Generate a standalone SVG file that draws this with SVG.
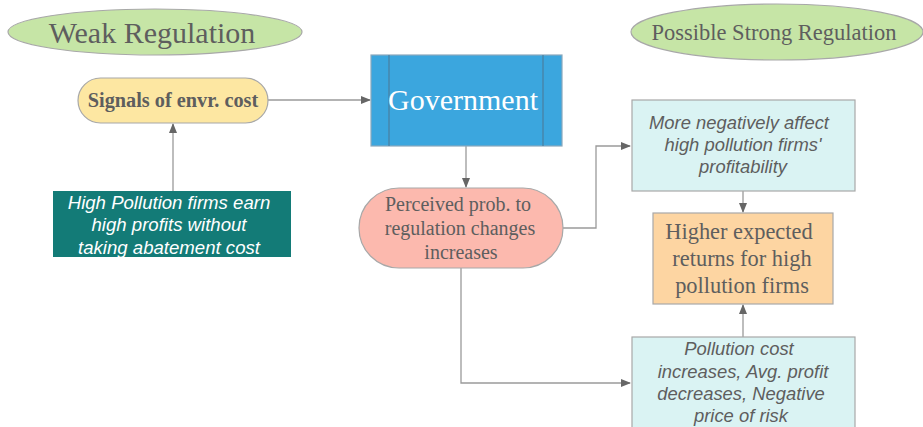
<svg xmlns="http://www.w3.org/2000/svg" width="923" height="427" viewBox="0 0 923 427">
<style>
.serif{font-family:"Liberation Serif","Times New Roman",serif;fill:#5e5e5e;text-anchor:middle;dominant-baseline:central}
.sans{font-family:"Liberation Sans",Arial,sans-serif;font-style:italic;fill:#5e5e5e;text-anchor:middle;dominant-baseline:central}
.conn{fill:none;stroke:#9a9a9a;stroke-width:1.3}
.box{stroke:#a8a8a8;stroke-width:1.2}
</style>
<defs>
<marker id="ah" markerWidth="10" markerHeight="8" refX="9" refY="4" orient="auto" markerUnits="userSpaceOnUse">
<path d="M0,0 L10,4 L0,8 Z" fill="#666"/>
</marker>
</defs>
<rect width="923" height="427" fill="#ffffff"/>

<g id="connectors">
<path class="conn" d="M268,100 H370" marker-end="url(#ah)"/>
<path class="conn" d="M466,146 V187" marker-end="url(#ah)"/>
<path class="conn" d="M173,191 V124" marker-end="url(#ah)"/>
<path class="conn" d="M563,228 H596 V146 H630" marker-end="url(#ah)"/>
<path class="conn" d="M743,191 V212" marker-end="url(#ah)"/>
<path class="conn" d="M743,337 V305" marker-end="url(#ah)"/>
<path class="conn" d="M461,268 V383 H630" marker-end="url(#ah)"/>
</g>

<g id="weak-regulation">
<ellipse cx="155" cy="32" rx="147" ry="23" fill="#c6e5a6" class="box"/>
<text class="serif" x="152" y="32" font-size="30">Weak Regulation</text>
</g>

<g id="strong-regulation">
<ellipse cx="777" cy="32" rx="146" ry="28" fill="#c6e5a6" class="box"/>
<text class="serif" x="774" y="32" font-size="22.5">Possible Strong Regulation</text>
</g>

<g id="signals">
<rect x="78" y="78" width="190" height="45" rx="22.5" fill="#fde7a2" class="box"/>
<text class="serif" x="173" y="100" font-size="20.3" font-weight="bold">Signals of envr. cost</text>
</g>

<g id="high-pollution">
<rect x="53" y="191" width="238" height="66" fill="#137b77"/>
<text class="sans" x="169" y="202" font-size="18.6" style="fill:#ffffff">High Pollution firms earn</text>
<text class="sans" x="169" y="224" font-size="18.6" style="fill:#ffffff">high profits without</text>
<text class="sans" x="169" y="247" font-size="18.6" style="fill:#ffffff">taking abatement cost</text>
</g>

<g id="government">
<rect x="371" y="55" width="191" height="91" fill="#3ba6de" stroke="#8aa8bd" stroke-width="1.2"/>
<line x1="389" y1="55" x2="389" y2="146" stroke="#4a7f9e" stroke-width="1.2"/>
<line x1="543" y1="55" x2="543" y2="146" stroke="#4a7f9e" stroke-width="1.2"/>
<text class="serif" x="463" y="99" font-size="30" style="fill:#ffffff">Government</text>
</g>

<g id="perceived">
<rect x="359" y="188" width="204" height="80" rx="40" fill="#fcb9ae" class="box"/>
<text class="serif" x="458" y="204" font-size="20">Perceived prob. to</text>
<text class="serif" x="460" y="228" font-size="20">regulation changes</text>
<text class="serif" x="461" y="252" font-size="20">increases</text>
</g>

<g id="more-negatively">
<rect x="632" y="100" width="223" height="91" fill="#daf3f3" class="box"/>
<text class="sans" x="739" y="122" font-size="18.4">More negatively affect</text>
<text class="sans" x="743" y="144" font-size="18.4">high pollution firms'</text>
<text class="sans" x="743" y="166" font-size="18.4">profitability</text>
</g>

<g id="higher-returns">
<rect x="653" y="213" width="180" height="91" fill="#fdd5a2" class="box"/>
<text class="serif" x="739" y="231" font-size="22.4">Higher expected</text>
<text class="serif" x="742" y="258" font-size="22.4">returns for high</text>
<text class="serif" x="742" y="285" font-size="22.4">pollution firms</text>
</g>

<g id="pollution-cost">
<rect x="632" y="337" width="223" height="100" fill="#daf3f3" class="box"/>
<text class="sans" x="739" y="348" font-size="18.4">Pollution cost</text>
<text class="sans" x="743" y="371" font-size="18.4">increases, Avg. profit</text>
<text class="sans" x="741" y="393" font-size="18.4">decreases, Negative</text>
<text class="sans" x="741" y="415" font-size="18.4">price of risk</text>
</g>
</svg>
